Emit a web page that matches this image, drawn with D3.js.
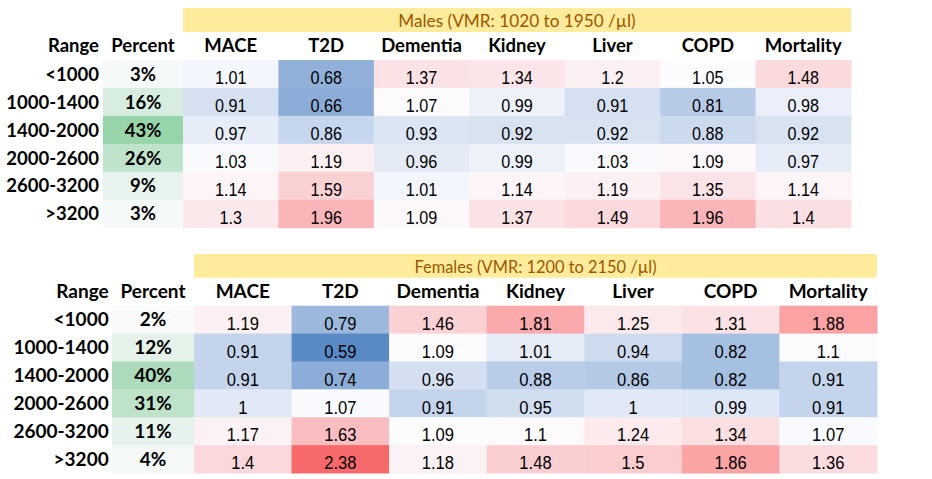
<!DOCTYPE html>
<html><head><meta charset="utf-8">
<script src="https://cdn.jsdelivr.net/npm/d3@7"></script>
<style>
html,body{margin:0;padding:0;background:#fff;}
svg{display:block;}
</style></head>
<body><svg id="chart" width="932" height="479"></svg>
<script>
// ---------- data ----------
const ranges = ["<1000","1000-1400","1400-2000","2000-2600","2600-3200",">3200"];
const outcomes = ["MACE","T2D","Dementia","Kidney","Liver","COPD","Mortality"];

const malesTitle = "Males (VMR: 1020 to 1950 /µl)";
const malesPercent = [3,16,43,26,9,3];
const malesMACE      = [1.01,0.91,0.97,1.03,1.14,1.3];
const malesT2D       = [0.68,0.66,0.86,1.19,1.59,1.96];
const malesDementia  = [1.37,1.07,0.93,0.96,1.01,1.09];
const malesKidney    = [1.34,0.99,0.92,0.99,1.14,1.37];
const malesLiver     = [1.2,0.91,0.92,1.03,1.19,1.49];
const malesCOPD      = [1.05,0.81,0.88,1.09,1.35,1.96];
const malesMortality = [1.48,0.98,0.92,0.97,1.14,1.4];

const femalesTitle = "Females (VMR: 1200 to 2150 /µl)";
const femalesPercent = [2,12,40,31,11,4];
const femalesMACE      = [1.19,0.91,0.91,1,1.17,1.4];
const femalesT2D       = [0.79,0.59,0.74,1.07,1.63,2.38];
const femalesDementia  = [1.46,1.09,0.96,0.91,1.09,1.18];
const femalesKidney    = [1.81,1.01,0.88,0.95,1.1,1.48];
const femalesLiver     = [1.25,0.94,0.86,1,1.24,1.5];
const femalesCOPD      = [1.31,0.82,0.82,0.99,1.34,1.86];
const femalesMortality = [1.88,1.1,0.91,0.91,1.07,1.36];

const malesValues = [malesMACE,malesT2D,malesDementia,malesKidney,malesLiver,malesCOPD,malesMortality];
const femalesValues = [femalesMACE,femalesT2D,femalesDementia,femalesKidney,femalesLiver,femalesCOPD,femalesMortality];

// ---------- layout / style ----------
const BLUE = "rgb(90,138,198)", WHITE = "rgb(252,252,255)", RED = "rgb(248,105,107)", GREEN = "rgb(99,190,123)";
const tables = [
  { title: malesTitle, percent: malesPercent, values: malesValues,
    rangeRight: 99, pctX0: 103, dataX0: 183, dataX1: 851,
    bandY0: 8, bandY1: 32, headY1: 60, rowsY1: 227.7,
    bandFont: 17.2, headFont: 18.5, dataFont: 16.2,
    titleBase: 5, headBase: 7.7, dataBase: 4, pctBase: 7.3,
    colorLo: 0.5, colorHi: 2.95, greenHi: 66 },
  { title: femalesTitle, percent: femalesPercent, values: femalesValues,
    rangeRight: 108.7, pctX0: 112, dataX0: 194, dataX1: 877,
    bandY0: 254, bandY1: 277.7, headY1: 305.7, rowsY1: 473,
    bandFont: 16.4, headFont: 19, dataFont: 16.6,
    titleBase: 4.4, headBase: 7.4, dataBase: 3.7, pctBase: 7.3,
    colorLo: null, colorHi: null, greenHi: 76 }
];

const svg = d3.select("#chart");

tables.forEach(t => {
  const g = svg.append("g");
  const allVals = t.values.flat();
  const mid = d3.median(allVals);
  const lo = t.colorLo != null ? t.colorLo : d3.min(allVals);
  const hi = t.colorHi != null ? t.colorHi : d3.max(allVals);
  const color = d3.scaleLinear().domain([lo, mid, hi]).range([BLUE, WHITE, RED])
    .interpolate(d3.interpolateRgb).clamp(true);
  const green = d3.scaleLinear().domain([0, t.greenHi]).range([WHITE, GREEN]).clamp(true);

  const x = d3.scaleBand().domain(outcomes).range([t.dataX0, t.dataX1]);
  const y = d3.scaleBand().domain(ranges).range([t.headY1, t.rowsY1]);

  // title band
  g.append("rect").attr("x", t.dataX0).attr("y", t.bandY0)
    .attr("width", t.dataX1 - t.dataX0).attr("height", t.bandY1 - t.bandY0)
    .attr("fill", "#FFEB9C");
  g.append("text").attr("x", (t.dataX0 + t.dataX1) / 2).attr("y", t.bandY1 - t.titleBase)
    .attr("text-anchor", "middle").attr("fill", "#9C5700")
    .style("font-family", "Lato, 'Open Sans', sans-serif").style("font-size", t.bandFont + "px")
    .text(t.title);

  // header row
  const headY = t.headY1 - t.headBase;
  const headStyle = sel => sel.style("font-family", "Lato, 'Open Sans', sans-serif")
    .style("font-weight", "700").style("font-size", t.headFont + "px").attr("fill", "#000");
  g.append("text").attr("x", t.rangeRight).attr("y", headY).attr("text-anchor", "end")
    .call(headStyle).text("Range");
  g.append("text").attr("x", (t.pctX0 + t.dataX0) / 2).attr("y", headY).attr("text-anchor", "middle")
    .call(headStyle).text("Percent");
  g.selectAll("text.head").data(outcomes).join("text").attr("class", "head")
    .attr("x", d => x(d) + x.bandwidth() / 2).attr("y", headY).attr("text-anchor", "middle")
    .call(headStyle).text(d => d);

  // range labels
  g.selectAll("text.range").data(ranges).join("text").attr("class", "range")
    .attr("x", t.rangeRight).attr("y", d => y(d) + y.bandwidth() - t.pctBase)
    .attr("text-anchor", "end").call(headStyle).text(d => d);

  // percent column
  const pct = ranges.map((r, i) => ({ r, v: t.percent[i] }));
  g.selectAll("rect.pct").data(pct).join("rect").attr("class", "pct")
    .attr("x", t.pctX0).attr("y", d => y(d.r)).attr("width", t.dataX0 - t.pctX0)
    .attr("height", y.bandwidth() + 0.5).attr("fill", d => green(d.v));
  g.selectAll("text.pct").data(pct).join("text").attr("class", "pct")
    .attr("x", (t.pctX0 + t.dataX0) / 2).attr("y", d => y(d.r) + y.bandwidth() - t.pctBase)
    .attr("text-anchor", "middle").call(headStyle).text(d => d.v + "%");

  // data cells
  const cells = [];
  outcomes.forEach((o, j) => ranges.forEach((r, i) => cells.push({ o, r, v: t.values[j][i] })));
  g.selectAll("rect.cell").data(cells).join("rect").attr("class", "cell")
    .attr("x", d => x(d.o)).attr("y", d => y(d.r))
    .attr("width", x.bandwidth() + 0.5).attr("height", y.bandwidth() + 0.5)
    .attr("fill", d => color(d.v));
  g.selectAll("text.cell").data(cells).join("text").attr("class", "cell")
    .attr("transform", d => `translate(${x(d.o) + x.bandwidth() / 2},${y(d.r) + y.bandwidth() - t.dataBase}) scale(1,1.1)`)
    .attr("text-anchor", "middle").attr("fill", "#000")
    .style("font-family", "'Liberation Sans', Arial, sans-serif").style("font-size", t.dataFont + "px")
    .text(d => String(d.v));
});
</script>
</body></html>
